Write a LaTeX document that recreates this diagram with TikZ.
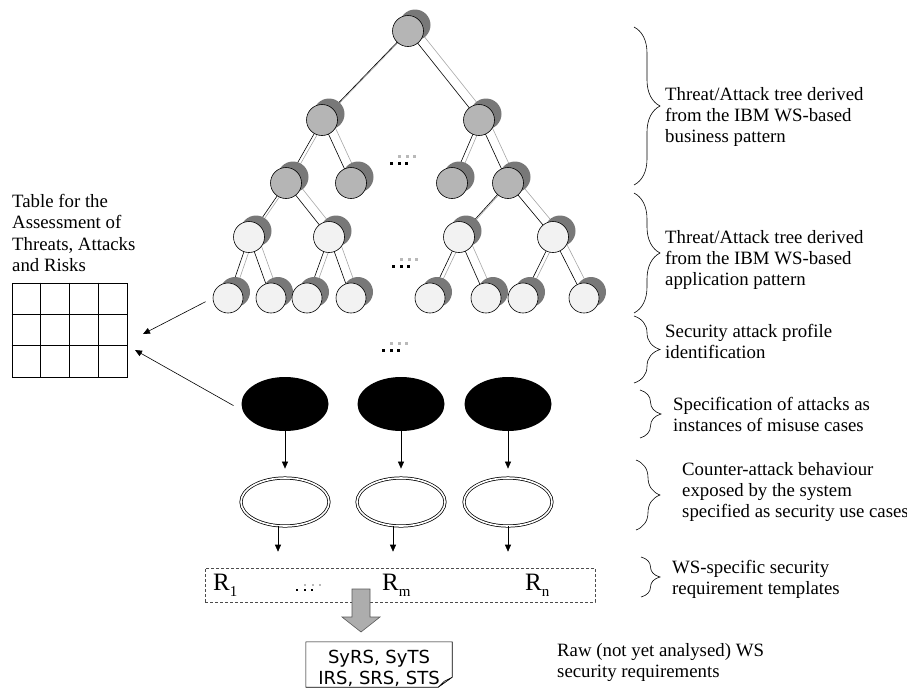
\documentclass[tikz,border=0pt]{standalone}
\usepackage{fontspec}
\setmainfont{Liberation Serif}
\newfontfamily\docfont{DejaVu Sans}
\usepackage{tikz}
\usetikzlibrary{calc}
\usetikzlibrary{shapes}
\usetikzlibrary{shadows}
\usetikzlibrary{backgrounds}
\usetikzlibrary{decorations.pathreplacing}
\usetikzlibrary{arrows.meta}
\definecolor{bizfill}{gray}{0.71}
\definecolor{appfill}{gray}{0.95}
\definecolor{nodeshade}{gray}{0.47}
\definecolor{rimline}{gray}{0.65}
\definecolor{flowfill}{gray}{0.68}

\begin{document}
\begin{tikzpicture}[x=1pt, y=-1pt,
      biz/.style={draw, circle, minimum size=31pt, inner sep=0pt, line width=0.6pt, fill=bizfill,
        general shadow={shadow xshift=7pt, shadow yshift=6pt, fill=nodeshade}},
      app/.style={biz, fill=appfill},
      leaf/.style={app, minimum size=30pt},
      misuse/.style={ellipse, fill=black, minimum width=87pt, minimum height=54pt, inner sep=0pt},
      usecase/.style={ellipse, draw, double, double distance=1.6pt, line width=0.75pt, minimum width=88pt, minimum height=48pt, inner sep=0pt},
      arr/.style={-{Triangle[length=7pt,width=6pt]}, line width=0.6pt},
      rim/.style={draw=rimline, line width=0.6pt},
      twig/.style={draw=black, line width=0.6pt},
      txt/.style={font=\fontsize{18.8}{21.3}\selectfont, align=left, anchor=north west, inner sep=0pt},
      rlab/.style={font=\fontsize{25}{25}\selectfont, anchor=base west, inner sep=0pt},
      brc/.style={decorate, decoration={brace, amplitude=#1}, line width=0.6pt},
      flow/.style={draw=gray!70!black, fill=flowfill, line width=0.6pt}
    ]
    \useasboundingbox (0,0) rectangle (907,689);

    % threat/attack tree
    \node[biz] (t) at (408,31) {};
    \node[biz] (t1) at (322,120) {};
    \node[biz] (t2) at (479,120) {};
    \node[biz] (t11) at (286,183) {};
    \node[biz] (t12) at (351,183) {};
    \node[biz] (t21) at (452,183) {};
    \node[biz] (t22) at (508,183) {};
    \node[app] (a1) at (249,237) {};
    \node[app] (a2) at (329,237) {};
    \node[app] (a3) at (459,237) {};
    \node[app] (a4) at (553,237) {};
    \node[leaf] (a11) at (228,298) {};
    \node[leaf] (a12) at (271,298) {};
    \node[leaf] (a21) at (307,298) {};
    \node[leaf] (a22) at (351,298) {};
    \node[leaf] (a31) at (430,298) {};
    \node[leaf] (a32) at (486,298) {};
    \node[leaf] (a41) at (523,298) {};
    \node[leaf] (a42) at (584,298) {};
    \begin{scope}[on background layer]
      \foreach \p/\c in {t/t1,t/t2,t1/t11,t1/t12,t2/t21,t2/t22,t11/a1,t11/a2,t22/a3,t22/a4,
                         a1/a11,a1/a12,a2/a21,a2/a22,a3/a31,a3/a32,a4/a41,a4/a42} {
        \path[rim] ([shift={(7pt,6pt)}]\p.center) -- ([shift={(7pt,6pt)}]\c.center);
        \path[twig] (\p.center) -- (\c.center);
      }
    \end{scope}

    % dots
    \foreach \x/\y in {390/162, 392/265, 382/349} {
      \foreach \k in {0,7.5,15} {
        \fill (\x+\k,\y) rectangle ++(3,3);
        \fill[gray!55] (\x+\k+8,\y-7) rectangle ++(3,3);
      }
    }

    % misuse and security use cases
    \node[misuse] (m1) at (285,404) {};
    \node[misuse] (m2) at (401,404) {};
    \node[misuse] (m3) at (508,404) {};
    \node[usecase] (u1) at (285,502) {};
    \node[usecase] (u2) at (401,502) {};
    \node[usecase] (u3) at (508,502) {};
    \draw[arr, shorten >=9pt] (m1) -- (u1);
    \draw[arr, shorten >=9pt] (m2) -- (u2);
    \draw[arr, shorten >=9pt] (m3) -- (u3);

    % requirement templates
    \node[draw=gray!60!black, dash pattern=on 3pt off 2pt, line width=0.6pt, minimum width=390pt, minimum height=34pt] (req) at (400,585) {};
    \draw[arr, shorten >=16pt] ([xshift=-7pt]u1.south) -- ([xshift=-7pt]u1.south |- req.north);
    \draw[arr, shorten >=16pt] ([xshift=-8pt]u2.south) -- ([xshift=-8pt]u2.south |- req.north);
    \draw[arr, shorten >=16pt] (u3.south) -- (u3.south |- req.north);
    \node[rlab] (r1) at (213,590) {R\raisebox{-6pt}{\fontsize{15}{15}\selectfont 1}};
    \node[rlab] (rm) at (382,590) {R\raisebox{-6pt}{\fontsize{15}{15}\selectfont m}};
    \node[rlab] (rn) at (525,590) {R\raisebox{-6pt}{\fontsize{15}{15}\selectfont n}};
    \foreach \k in {0,7.5,15} {
      \fill (296+\k,589) rectangle ++(2.2,2.2);
      \fill[gray!55] (304+\k,584) rectangle ++(2.2,2.2);
    }

    % raw requirements
    \coordinate (flow) at (361,589);
    \filldraw[flow] ($(flow)+(-9,0)$) -- ++(18,0) -- ++(0,28) -- ++(10,0) -- ++(-19,15) -- ++(-19,-15) -- ++(10,0) -- cycle;
    \node[font=\docfont\fontsize{18}{21}\selectfont, align=center, minimum width=146pt, minimum height=45pt, inner sep=0pt] (doc) at (379,668.5) {SyRS, SyTS\\IRS, SRS, STS};
    \draw[line width=0.6pt] ([yshift=4pt]doc.north west) -- ([yshift=4pt]doc.north east) -- ([yshift=14pt]doc.south east)
      -- ([xshift=-14pt,yshift=4pt]doc.south east) -- ([yshift=4pt]doc.south west) -- cycle;
    \filldraw[fill=gray!40, line width=0.5pt] ([xshift=-14pt,yshift=4pt]doc.south east) -- ([yshift=14pt]doc.south east)
      -- ([xshift=-8pt,yshift=10pt]doc.south east) -- cycle;
    \node[txt] (rawdesc) at (557,643) {Raw (not yet analysed) WS\\security requirements};

    % assessment table
    \node[txt] (tabtitle) at (12,194) {Table for the\\Assessment of\\Threats, Attacks\\and Risks};
    \node[draw, line width=0.6pt, minimum width=115pt, minimum height=94pt, inner sep=0pt] (tab) at (69.5,330) {};
    \foreach \i in {1,2,3}
      \draw[line width=0.6pt] ($(tab.north west)!\i/4!(tab.north east)$) -- ($(tab.south west)!\i/4!(tab.south east)$);
    \foreach \j in {1,2}
      \draw[line width=0.6pt] ($(tab.north west)!\j/3!(tab.south west)$) -- ($(tab.north east)!\j/3!(tab.south east)$);
    \coordinate (in1) at (143,334);
    \coordinate (in2) at (135,350);
    \draw[arr, shorten <=8pt] (a11.west) -- (in1);
    \draw[arr, shorten <=9pt] ([yshift=-6pt]m1.west) -- (in2);

    % braces and descriptions
    \draw[brc=26] (634,27) -- (634,185);
    \draw[brc=26] (634,193) -- (634,313);
    \draw[brc=26] (634,316) -- (634,383);
    \draw[brc=21] (640,390) -- (640,438);
    \draw[brc=24] (636,460) -- (636,530);
    \draw[brc=19] (641,557) -- (641,597);
    \node[txt] (busdesc) at (665,87) {Threat/Attack tree derived\\from the IBM WS-based\\business pattern};
    \node[txt] (appdesc) at (665,230) {Threat/Attack tree derived\\from the IBM WS-based\\application pattern};
    \node[txt] (profdesc) at (665,324) {Security attack profile\\identification};
    \node[txt] (misdesc) at (673,397) {Specification of attacks as\\instances of misuse cases};
    \node[txt] (counterdesc) at (682,462) {Counter-attack behaviour\\exposed by the system\\specified as security use cases};
    \node[txt] (tmpldesc) at (672,560) {WS-specific security\\requirement templates};
  \end{tikzpicture}
\end{document}
